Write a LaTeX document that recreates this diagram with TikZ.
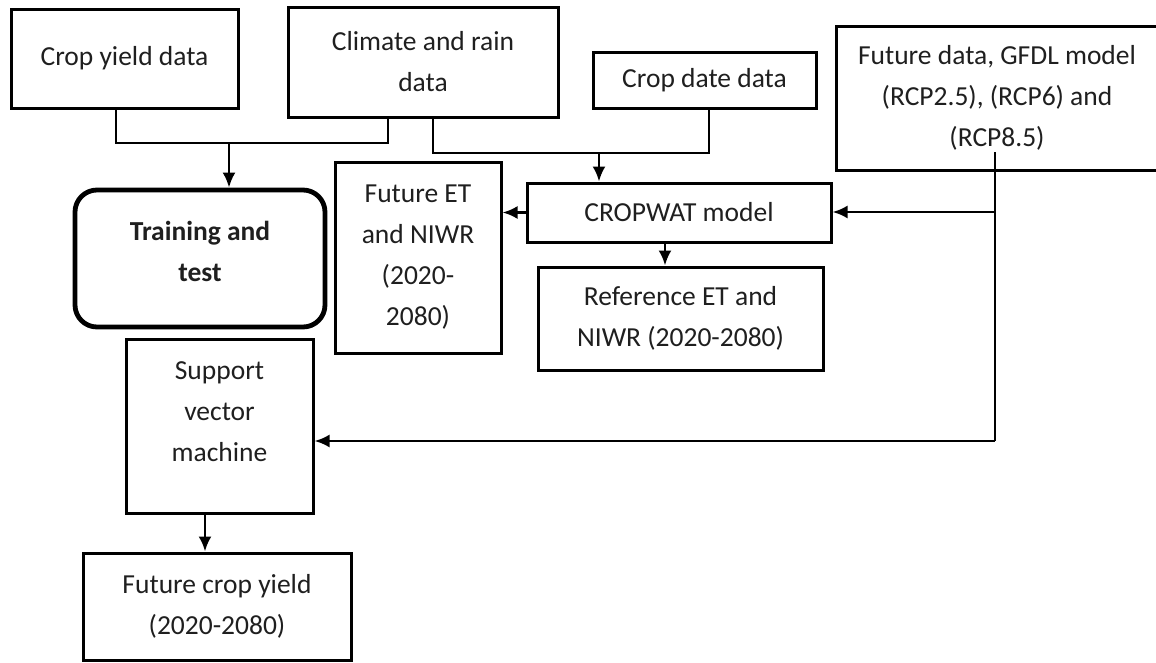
\documentclass[tikz,border=0pt]{standalone}
\usepackage{fontspec}
\setmainfont{Carlito}
\usetikzlibrary{arrows.meta}
\newcommand\boxfont{\fontsize{27.5}{41}\selectfont}

\begin{document}
\begin{tikzpicture}[x=1pt, y=-1pt, font=\boxfont,
  box/.style={draw, line width=3pt, align=center, inner sep=0pt, text=black!88},
  arr/.style={-{Latex[length=15pt,width=13pt]}, line width=2.6pt}]
\path[use as bounding box, fill=white] (0,0) rectangle (1156,662);
\node[box, minimum width=227pt, minimum height=99pt] (cyd) at (124.5,58.5) {Crop yield data};
\node[box, minimum width=270pt, minimum height=110pt] (crd) at (423,62) {Climate and rain\\data};
\node[box, minimum width=223pt, minimum height=56pt] (cdd) at (704.5,80) {Crop date data};
\node[box, minimum width=322pt, minimum height=144pt] (fgd) at (997,98)
  {Future data, GFDL model\\(RCP2.5), (RCP6) and\\(RCP8.5)};
\node[box, line width=4.8pt, rounded corners=22pt, font=\boxfont\bfseries,
  minimum width=250pt, minimum height=137pt] (tat) at (200,258.5)
  {Training and\\test\\[-26pt]\mbox{}};
\node[box, minimum width=166pt, minimum height=191pt] (fet) at (418,257.5)
  {Future ET\\and NIWR\\(2020-\\2080)};
\node[box, minimum width=304pt, minimum height=59pt] (cwm) at (679,212.5) {CROPWAT model};
\node[box, minimum width=285pt, minimum height=103pt] (ret) at (680.5,318.5)
  {Reference ET and\\NIWR (2020-2080)};
\node[box, minimum width=187pt, minimum height=174pt] (svm) at (219.5,426)
  {Support\\vector\\machine\\[-13pt]\mbox{}};
\node[box, minimum width=268pt, minimum height=107pt] (fcy) at (217,606.5)
  {Future crop yield\\(2020-2080)};

\coordinate (j1) at (229,143);
\coordinate (j2) at (599,153);
\coordinate (j0) at (995,152);
\coordinate (j3) at (995,212);
\coordinate (j4) at (995,441);

\draw[line width=2.6pt] (116,0 |- cyd.south) |- (j1) -| (388,0 |- crd.south);
\draw[arr] (j1) -- (j1 |- tat.north);
\draw[line width=2.6pt] (433,0 |- crd.south) |- (j2) -| (709,0 |- cdd.south);
\draw[arr] (j2) -- (j2 |- cwm.north);
\draw[arr] (cwm.west) -- (cwm.west -| fet.east);
\draw[arr] (665,0 |- cwm.south) -- (665,0 |- ret.north);
\draw[line width=2.6pt] (j0) -- (j4);
\draw[arr] (j3) -- (j3 -| cwm.east);
\draw[arr] (j4) -- (j4 -| svm.east);
\draw[arr] (205,0 |- svm.south) -- (205,0 |- fcy.north);
\end{tikzpicture}
\end{document}
